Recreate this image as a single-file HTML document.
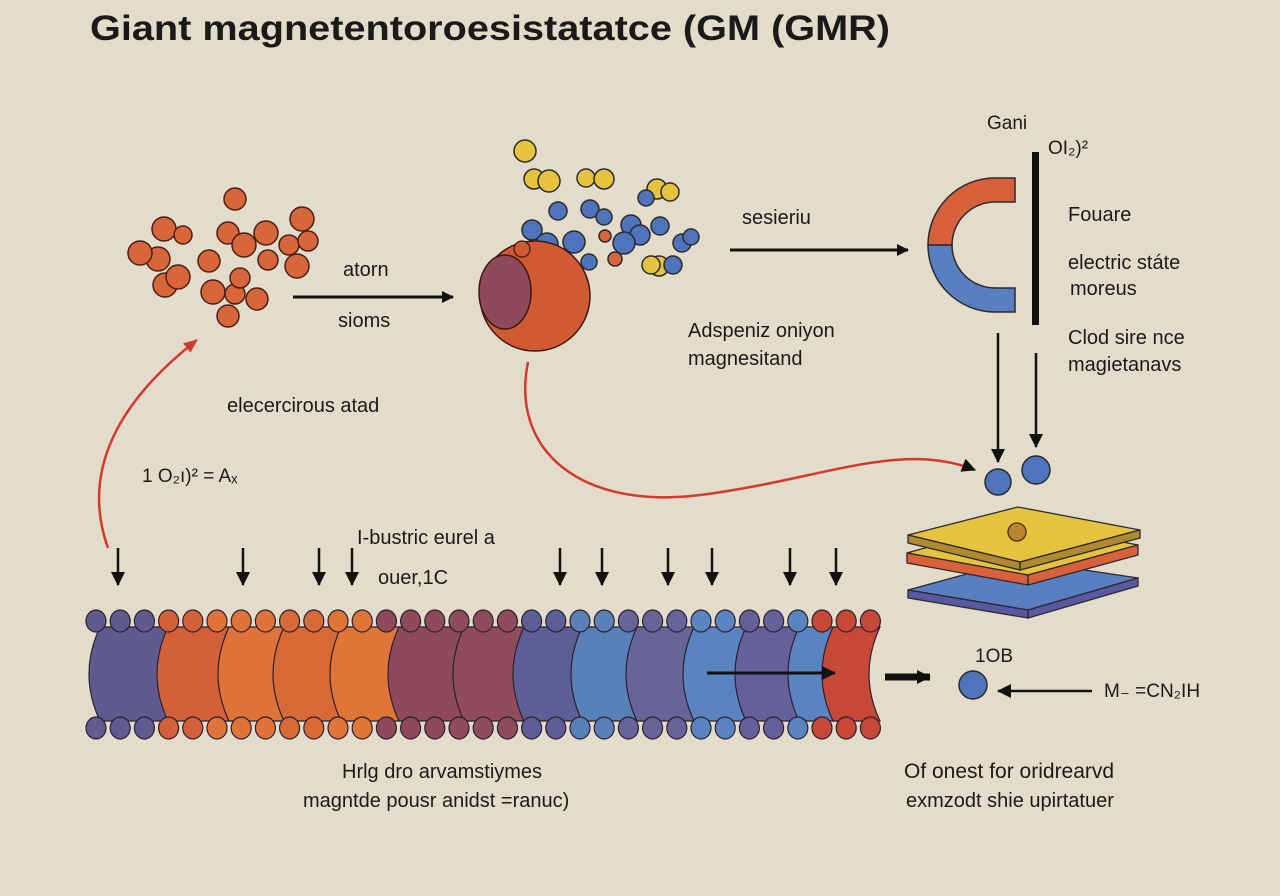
<!DOCTYPE html>
<html><head><meta charset="utf-8"><style>
html,body{margin:0;padding:0;background:#e4dccb;}
svg{display:block}
text{font-family:"Liberation Sans",Arial,sans-serif;fill:#1a1a1a}
</style></head><body>
<svg id="s" width="1280" height="896" viewBox="0 0 1280 896" xmlns="http://www.w3.org/2000/svg">
<defs>
<marker id="ah" markerWidth="12" markerHeight="12" refX="11" refY="6" orient="auto" markerUnits="userSpaceOnUse"><path d="M0,0 L12,6 L0,12 Z" fill="#111"/></marker>
<marker id="ahb" markerWidth="14" markerHeight="14" refX="13" refY="7" orient="auto" markerUnits="userSpaceOnUse"><path d="M0,0 L14,7 L0,14 Z" fill="#111"/></marker>
<marker id="ahr" markerWidth="14" markerHeight="14" refX="13" refY="7" orient="auto" markerUnits="userSpaceOnUse"><path d="M0,1 L14,7 L0,13 Z" fill="#d23a2e"/></marker>
</defs>
<rect width="1280" height="896" fill="#e4dccb"/>
<text x="90" y="40" font-size="35" font-weight="bold" fill="#111" textLength="800" lengthAdjust="spacingAndGlyphs">Giant  magnetentoroesistatatce (GM  (GMR)</text>

<g fill="#d8663a" stroke="#4a2015" stroke-width="1.5">
<circle cx="235" cy="199" r="11"/><circle cx="164" cy="229" r="12"/><circle cx="183" cy="235" r="9"/>
<circle cx="158" cy="259" r="12"/><circle cx="140" cy="253" r="12"/><circle cx="165" cy="285" r="12"/><circle cx="178" cy="277" r="12"/>
<circle cx="209" cy="261" r="11"/><circle cx="228" cy="233" r="11"/><circle cx="244" cy="245" r="12"/><circle cx="266" cy="233" r="12"/>
<circle cx="268" cy="260" r="10"/><circle cx="302" cy="219" r="12"/><circle cx="289" cy="245" r="10"/><circle cx="308" cy="241" r="10"/>
<circle cx="297" cy="266" r="12"/><circle cx="213" cy="292" r="12"/><circle cx="235" cy="294" r="10"/><circle cx="240" cy="278" r="10"/>
<circle cx="257" cy="299" r="11"/><circle cx="228" cy="316" r="11"/>
</g>
<line x1="293" y1="297" x2="453" y2="297" stroke="#111" stroke-width="3" marker-end="url(#ah)"/>
<text x="343" y="276" font-size="20">atorn</text>
<text x="338" y="327" font-size="20">sioms</text>
<text x="227" y="412" font-size="20">elecercirous atad</text>
<text x="142" y="482" font-size="19">1 O₂ı)² =  Aₓ</text>
<path d="M108,548 C80,470 120,400 197,340" fill="none" stroke="#d23a2e" stroke-width="2.5" marker-end="url(#ahr)"/>

<g stroke="#2a2a30" stroke-width="1.5">
<circle cx="525" cy="151" r="11" fill="#e6c33e"/><circle cx="534" cy="179" r="10" fill="#e6c33e"/><circle cx="549" cy="181" r="11" fill="#e6c33e"/>
<circle cx="586" cy="178" r="9" fill="#e6c33e"/><circle cx="604" cy="179" r="10" fill="#e6c33e"/>
<circle cx="657" cy="189" r="10" fill="#e6c33e"/><circle cx="670" cy="192" r="9" fill="#e6c33e"/><circle cx="646" cy="198" r="8" fill="#4f74bb"/>
<circle cx="558" cy="211" r="9" fill="#4f74bb"/><circle cx="590" cy="209" r="9" fill="#4f74bb"/><circle cx="604" cy="217" r="8" fill="#4f74bb"/>
<circle cx="631" cy="225" r="10" fill="#4f74bb"/><circle cx="660" cy="226" r="9" fill="#4f74bb"/><circle cx="640" cy="235" r="10" fill="#4f74bb"/>
<circle cx="624" cy="243" r="11" fill="#4f74bb"/><circle cx="682" cy="243" r="9" fill="#4f74bb"/><circle cx="691" cy="237" r="8" fill="#4f74bb"/>
<circle cx="532" cy="230" r="10" fill="#4f74bb"/><circle cx="547" cy="244" r="11" fill="#4f74bb"/><circle cx="574" cy="242" r="11" fill="#4f74bb"/>
<circle cx="605" cy="236" r="6" fill="#d8663a"/><circle cx="615" cy="259" r="7" fill="#d8663a"/><circle cx="589" cy="262" r="8" fill="#4f74bb"/>
<circle cx="659" cy="266" r="10" fill="#e6c33e"/><circle cx="651" cy="265" r="9" fill="#e6c33e"/><circle cx="673" cy="265" r="9" fill="#4f74bb"/>
</g>
<circle cx="535" cy="296" r="55" fill="#d25a32" stroke="#3a1a10" stroke-width="1.5"/>
<circle cx="522" cy="249" r="8" fill="#d25a32" stroke="#3a1a10" stroke-width="1.2"/>
<ellipse cx="505" cy="292" rx="26" ry="37" fill="#8e4a5a" stroke="#3a1a10" stroke-width="1.5"/>
<path d="M528,362 C510,450 580,510 700,495 C820,480 900,440 975,470" fill="none" stroke="#d23a2e" stroke-width="2.5" marker-end="url(#ahb)"/>

<text x="742" y="224" font-size="20">sesieriu</text>
<line x1="730" y1="250" x2="908" y2="250" stroke="#111" stroke-width="3" marker-end="url(#ah)"/>
<text x="688" y="337" font-size="20">Adspeniz oniyon</text>
<text x="688" y="365" font-size="20">magnesitand</text>

<path d="M1015,178 L995,178 A67,67 0 0 0 928,245 L952,245 A43,43 0 0 1 995,202 L1015,202 Z" fill="#d8603a" stroke="#2a2a30" stroke-width="1.5"/>
<path d="M1015,312 L995,312 A67,67 0 0 1 928,245 L952,245 A43,43 0 0 0 995,288 L1015,288 Z" fill="#5a7fc0" stroke="#2a2a30" stroke-width="1.5"/>
<rect x="1032" y="152" width="7" height="173" fill="#111"/>
<text x="987" y="129" font-size="19">Gani</text>
<text x="1048" y="154" font-size="19">OI₂)²</text>
<text x="1068" y="221" font-size="20">Fouare</text>
<text x="1068" y="269" font-size="20">electric státe</text>
<text x="1070" y="295" font-size="20">moreus</text>
<text x="1068" y="344" font-size="20">Clod sire nce</text>
<text x="1068" y="371" font-size="20">magietanavs</text>
<line x1="998" y1="333" x2="998" y2="462" stroke="#111" stroke-width="2.5" marker-end="url(#ahb)"/>
<line x1="1036" y1="353" x2="1036" y2="447" stroke="#111" stroke-width="2.5" marker-end="url(#ahb)"/>
<circle cx="998" cy="482" r="13" fill="#4f74bb" stroke="#2a2a30" stroke-width="1.5"/>
<circle cx="1036" cy="470" r="14" fill="#4f74bb" stroke="#2a2a30" stroke-width="1.5"/>

<g stroke="#2a2a30" stroke-width="1.3">
<path d="M908,590 L1018,560 L1138,578 L1028,610 Z" fill="#5a7fc0"/>
<path d="M908,590 L1028,610 L1028,618 L908,598 Z" fill="#5a58a0"/>
<path d="M1028,610 L1138,578 L1138,586 L1028,618 Z" fill="#5a58a0"/>
<path d="M907,553 L1018,522 L1138,545 L1028,575 Z" fill="#e6c33e"/>
<path d="M907,553 L1028,575 L1028,585 L907,563 Z" fill="#d8603a"/>
<path d="M1028,575 L1138,545 L1138,555 L1028,585 Z" fill="#d8603a"/>
<path d="M908,535 L1018,507 L1140,530 L1020,562 Z" fill="#e6c33e"/>
<path d="M908,535 L1020,562 L1020,570 L908,543 Z" fill="#b08a30"/>
<path d="M1020,562 L1140,530 L1140,538 L1020,570 Z" fill="#b08a30"/>
</g>
<circle cx="1017" cy="532" r="9" fill="#b8862e" stroke="#4a3010" stroke-width="1.3"/>

<text x="975" y="662" font-size="19">1OB</text>
<line x1="885" y1="677" x2="930" y2="677" stroke="#111" stroke-width="7" marker-end="url(#ahb)"/>
<circle cx="973" cy="685" r="14" fill="#4f74bb" stroke="#2a2a30" stroke-width="1.5"/>
<line x1="1092" y1="691" x2="998" y2="691" stroke="#111" stroke-width="2.5" marker-end="url(#ahb)"/>
<text x="1104" y="697" font-size="19">M₋ =CN₂IH</text>
<text x="904" y="778" font-size="21">Of onest  for oridrearvd</text>
<text x="906" y="807" font-size="20">exmzodt shie upirtatuer</text>

<text x="357" y="544" font-size="20">I-bustric eurel a</text>
<text x="378" y="584" font-size="20">ouer,1C</text>
<text x="342" y="778" font-size="20">Hrlg dro arvamstiymes</text>
<text x="303" y="807" font-size="20">magntde pousr anidst  =ranuc)</text>

<g id="band"></g>
<g id="arr" stroke="#111" stroke-width="2.5"></g>
<line x1="707" y1="673" x2="835" y2="673" stroke="#111" stroke-width="3" marker-end="url(#ahb)"/>
</svg>
<script>
var ns="http://www.w3.org/2000/svg",band=document.getElementById("band");
function el(t,a,p){var e=document.createElementNS(ns,t);for(var k in a)e.setAttribute(k,a[k]);(p||band).appendChild(e);return e;}
var b=[90,158,219,274,331,389,454,514,572,627,684,736,789,823];
var c=["#5f5b8e","#d4603a","#e0733a","#d86a38","#e07538","#8e4a5a","#904c5c","#5e5e96","#5a80b8","#68649a","#5a84c0","#66609a","#5a84c0","#c84838"];
for(var i=0;i<b.length;i++){
  var x0=b[i],x1=(i<b.length-1)?b[i+1]+20:880;
  var d;
  if(i==b.length-1) d="M"+(x0+10)+",627 Q"+(x0-12)+",674 "+(x0+10)+",721 L880,721 Q858,674 880,627 Z";
  else d="M"+(x0+10)+",627 Q"+(x0-12)+",674 "+(x0+10)+",721 L"+x1+",721 L"+x1+",627 Z";
  el("path",{d:d,fill:c[i],stroke:"#2a2030","stroke-width":"1.2"});
}
function colAt(x){var k=0;for(var i=0;i<b.length;i++)if(x>=b[i]-4)k=i;return c[k];}
for(var x=96;x<=872;x+=24.2){
  var col=colAt(x);
  el("ellipse",{cx:x,cy:621,rx:10,ry:11,fill:col,stroke:"#2a2030","stroke-width":"1.2"});
  el("ellipse",{cx:x,cy:728,rx:10,ry:11,fill:col,stroke:"#2a2030","stroke-width":"1.2"});
}
var ax=[118,243,319,352,560,602,668,712,790,836],ar=document.getElementById("arr");
ax.forEach(function(x){el("line",{x1:x,y1:548,x2:x,y2:585,"marker-end":"url(#ahb)"},ar);});
</script>
</body></html>
